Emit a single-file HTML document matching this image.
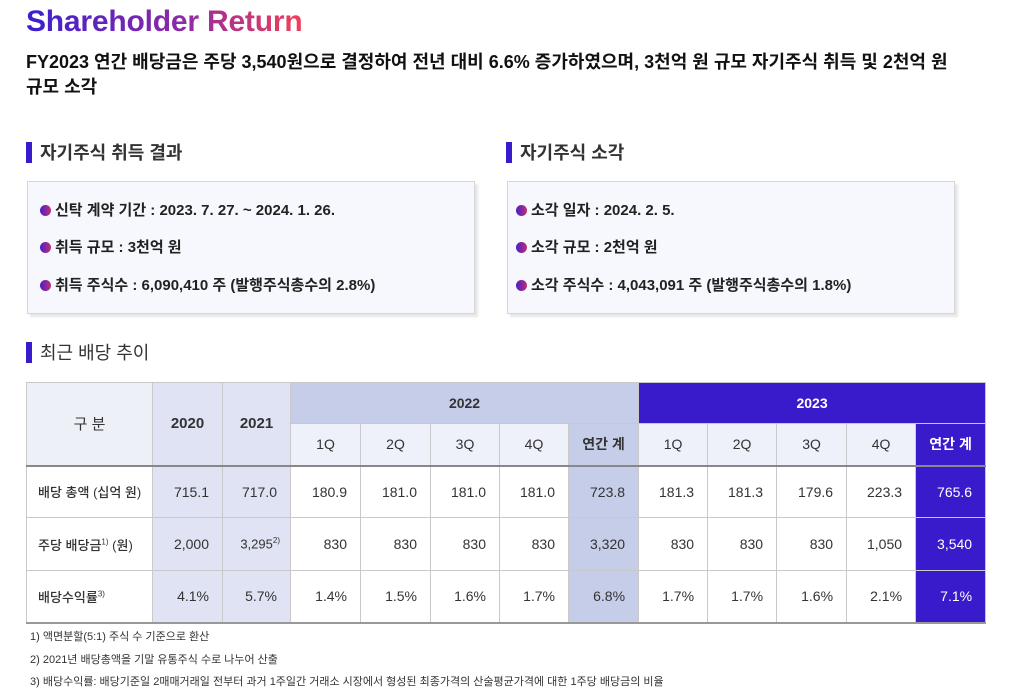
<!DOCTYPE html>
<html><head><meta charset="utf-8"><style>
body{margin:0;width:1015px;height:685px;background:#fff;font-family:"Liberation Sans","Noto Sans CJK KR",sans-serif;color:#222;position:relative;overflow:hidden}
.abs{position:absolute}
h1{position:absolute;left:26px;top:5px;margin:0;font-size:30px;font-weight:bold;background:linear-gradient(90deg,#3b1fd0,#8a2aa8 55%,#f0405a);-webkit-background-clip:text;background-clip:text;color:transparent;letter-spacing:-0.2px}
.sub{left:26px;top:50px;width:950px;font-size:18px;font-weight:bold;line-height:25px;color:#111;word-break:keep-all}
.sec{font-size:18px;font-weight:bold;color:#333;padding-left:14px;height:22px;line-height:22px}
.sec:before{content:"";position:absolute;left:0;top:0;width:6px;height:21px;background:#3a1bcb}
.box{background:#f7f8fd;border:1px solid #d6d6da;box-shadow:3px 3px 2px #e6e6e6;font-size:15px;font-weight:bold;color:#222}
.box div{position:absolute;left:12px;white-space:nowrap}
.box div:before{content:"";display:inline-block;width:11px;height:11px;border-radius:50%;background:linear-gradient(90deg,#4a1dd0,#c0306e);margin-right:4px;vertical-align:-1px}
table{position:absolute;left:26px;top:382px;border-collapse:collapse;table-layout:fixed;width:959px;font-size:14px}
td{border:1px solid #c9c9cc;text-align:right;padding:0 13px 0 0;color:#333;font-weight:500;white-space:nowrap}
td.l{text-align:left;padding-left:11px;font-size:13px;color:#333}
.h td{text-align:center;padding:0;font-weight:bold}
.a{background:#dfe3f3}.b{background:#c5cde9}.c{background:#3a1bcb;color:#fff}.q{background:#eef1f9}
sup{font-size:8px}
.fn{left:30px;font-size:11px;color:#333}
</style></head><body>
<h1>Shareholder Return</h1>
<div class="abs sub">FY2023 연간 배당금은 주당 3,540원으로 결정하여 전년 대비 6.6% 증가하였으며, 3천억 원 규모 자기주식 취득 및 2천억 원 규모 소각</div>
<div class="abs sec" style="left:26px;top:142px">자기주식 취득 결과</div>
<div class="abs sec" style="left:506px;top:142px">자기주식 소각</div>
<div class="abs box" style="left:27px;top:181px;width:446px;height:131px">
<div style="top:17px">신탁 계약 기간 : 2023. 7. 27. ~ 2024. 1. 26.</div>
<div style="top:54px">취득 규모 : 3천억 원</div>
<div style="top:92px">취득 주식수 : 6,090,410 주 (발행주식총수의 2.8%)</div>
</div>
<div class="abs box" style="left:507px;top:181px;width:446px;height:131px">
<div style="top:17px;left:8px">소각 일자 : 2024. 2. 5.</div>
<div style="top:54px;left:8px">소각 규모 : 2천억 원</div>
<div style="top:92px;left:8px">소각 주식수 : 4,043,091 주 (발행주식총수의 1.8%)</div>
</div>
<div class="abs sec" style="left:26px;top:342px;font-weight:normal;color:#333">최근 배당 추이</div>
<table>
<colgroup><col style="width:126px"><col style="width:70px"><col style="width:68px"><col style="width:70px"><col style="width:70px"><col style="width:69px"><col style="width:69px"><col style="width:70px"><col style="width:69px"><col style="width:69px"><col style="width:70px"><col style="width:69px"><col style="width:70px"></colgroup>
<tr class="h" style="height:41px"><td rowspan="2" style="background:#eef0f8;font-weight:normal;font-size:15px">구 분</td><td rowspan="2" class="a" style="font-size:15px">2020</td><td rowspan="2" class="a" style="font-size:15px">2021</td><td colspan="5" class="b">2022</td><td colspan="5" class="c">2023</td></tr>
<tr class="h" style="height:42px;border-bottom:2px solid #888"><td class="q" style="font-weight:normal">1Q</td><td class="q" style="font-weight:normal">2Q</td><td class="q" style="font-weight:normal">3Q</td><td class="q" style="font-weight:normal">4Q</td><td class="b">연간 계</td><td class="q" style="font-weight:normal">1Q</td><td class="q" style="font-weight:normal">2Q</td><td class="q" style="font-weight:normal">3Q</td><td class="q" style="font-weight:normal">4Q</td><td class="c">연간 계</td></tr>
<tr style="height:52px"><td class="l">배당 총액 (십억 원)</td><td class="a">715.1</td><td class="a">717.0</td><td>180.9</td><td>181.0</td><td>181.0</td><td>181.0</td><td class="b">723.8</td><td>181.3</td><td>181.3</td><td>179.6</td><td>223.3</td><td class="c">765.6</td></tr>
<tr style="height:53px"><td class="l">주당 배당금<sup>1)</sup> (원)</td><td class="a">2,000</td><td class="a" style="font-size:13px;padding-right:10px">3,295<sup>2)</sup></td><td>830</td><td>830</td><td>830</td><td>830</td><td class="b">3,320</td><td>830</td><td>830</td><td>830</td><td>1,050</td><td class="c">3,540</td></tr>
<tr style="height:52px;border-bottom:2px solid #999"><td class="l">배당수익률<sup>3)</sup></td><td class="a">4.1%</td><td class="a">5.7%</td><td>1.4%</td><td>1.5%</td><td>1.6%</td><td>1.7%</td><td class="b">6.8%</td><td>1.7%</td><td>1.7%</td><td>1.6%</td><td>2.1%</td><td class="c">7.1%</td></tr>
</table>
<div class="abs fn" style="top:628px">1) 액면분할(5:1) 주식 수 기준으로 환산</div>
<div class="abs fn" style="top:651px">2) 2021년 배당총액을 기말 유통주식 수로 나누어 산출</div>
<div class="abs fn" style="top:673px">3) 배당수익률: 배당기준일 2매매거래일 전부터 과거 1주일간 거래소 시장에서 형성된 최종가격의 산술평균가격에 대한 1주당 배당금의 비율</div>
</body></html>
